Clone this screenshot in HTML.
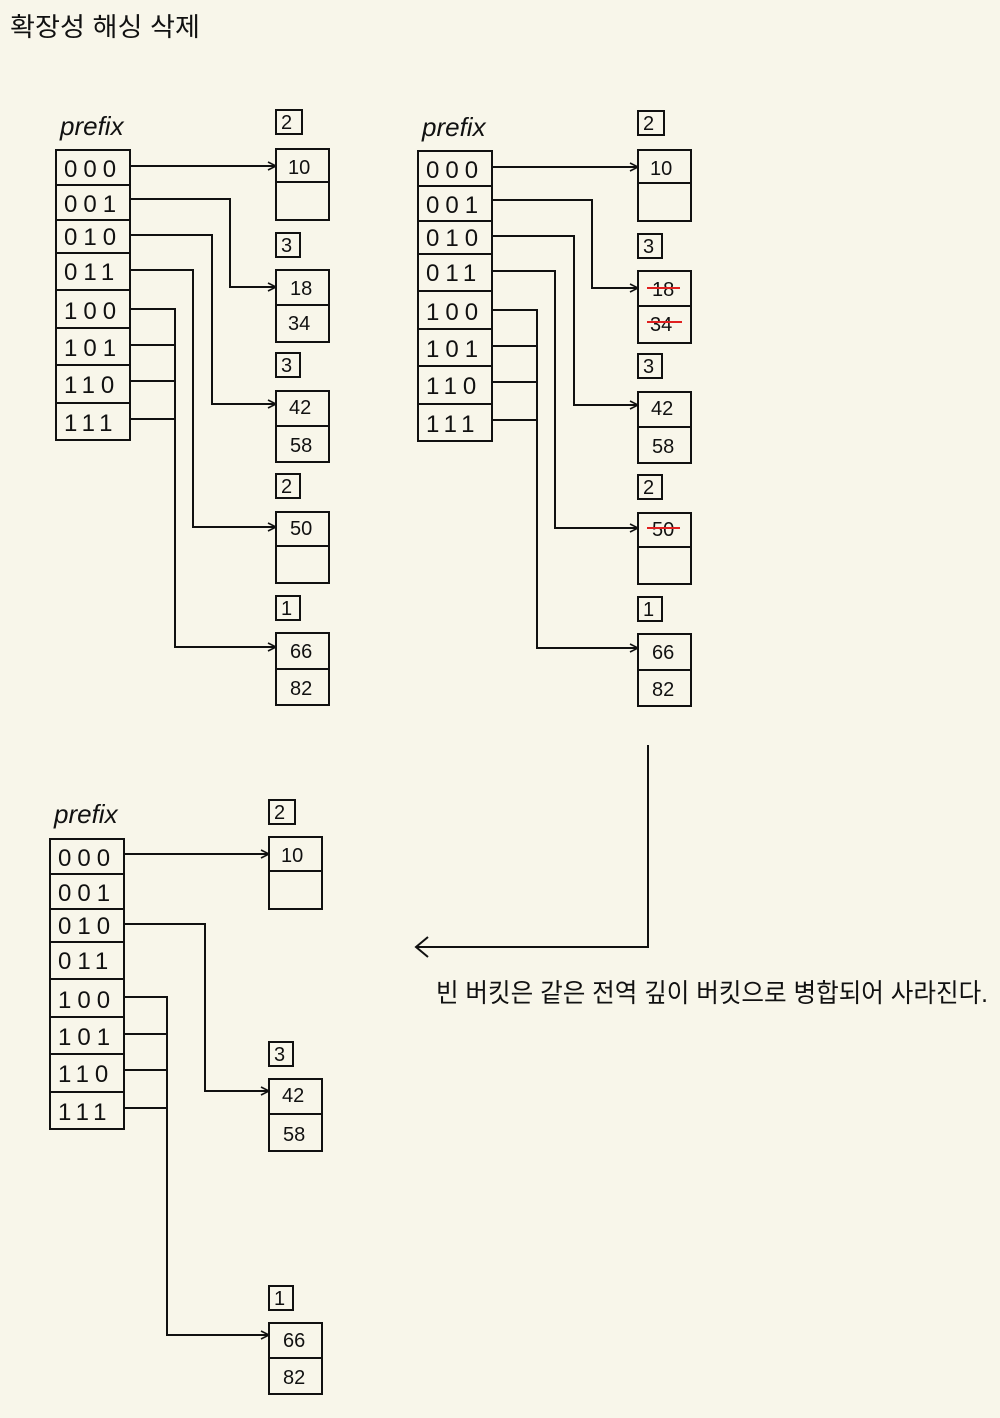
<!DOCTYPE html>
<html><head><meta charset="utf-8"><style>
body{margin:0;background:#f8f6ea}
svg{display:block}
text{font-family:"Liberation Sans","Noto Sans CJK KR",sans-serif;fill:#111}
</style></head><body>
<svg width="1000" height="1418" viewBox="0 0 1000 1418" xmlns="http://www.w3.org/2000/svg">
<defs>
<marker id="a" markerWidth="10" markerHeight="10" refX="9" refY="5" orient="auto" markerUnits="userSpaceOnUse"><path d="M1,1 L9,5 L1,9" fill="none" stroke="#111" stroke-width="1.6"/></marker>
<g id="tbl" stroke="#111" stroke-width="2" fill="none">
<rect x="0" y="0" width="74" height="290"/>
<path d="M0,35H74M0,70H74M0,103H74M0,140H74M0,178H74M0,215H74M0,253H74"/>
</g>
</defs>
<text x="10" y="36" font-size="26" textLength="190" lengthAdjust="spacingAndGlyphs">확장성 해싱 삭제</text>

<g id="d1">
<text x="60" y="135" font-size="26" font-style="italic">prefix</text>
<use href="#tbl" x="56" y="150"/>
<g font-size="24" letter-spacing="6">
<text x="64" y="177">000</text><text x="64" y="212">001</text><text x="64" y="245">010</text><text x="64" y="280">011</text>
<text x="64" y="319">100</text><text x="64" y="356">101</text><text x="64" y="393">110</text><text x="64" y="431">111</text>
</g>
<g stroke="#111" stroke-width="2" fill="none">
<rect x="276" y="110" width="26" height="24"/><rect x="276" y="149" width="53" height="71"/><path d="M276,182H329"/>
<rect x="276" y="233" width="24" height="24"/><rect x="276" y="270" width="53" height="72"/><path d="M276,305H329"/>
<rect x="276" y="353" width="24" height="24"/><rect x="276" y="391" width="53" height="71"/><path d="M276,426H329"/>
<rect x="276" y="474" width="24" height="24"/><rect x="276" y="512" width="53" height="71"/><path d="M276,546H329"/>
<rect x="276" y="596" width="24" height="24"/><rect x="276" y="633" width="53" height="72"/><path d="M276,669H329"/>
<path d="M130,166H276" marker-end="url(#a)"/>
<path d="M130,199H230V287H276" marker-end="url(#a)"/>
<path d="M130,235H212V404H276" marker-end="url(#a)"/>
<path d="M130,270H193V527H276" marker-end="url(#a)"/>
<path d="M130,309H175V647H276" marker-end="url(#a)"/>
<path d="M130,345H175M130,381H175M130,419H175"/>
</g>
<g font-size="20">
<text x="281" y="129">2</text><text x="288" y="174">10</text>
<text x="281" y="252">3</text><text x="290" y="295">18</text><text x="288" y="330">34</text>
<text x="281" y="372">3</text><text x="289" y="414">42</text><text x="290" y="452">58</text>
<text x="281" y="493">2</text><text x="290" y="535">50</text>
<text x="281" y="615">1</text><text x="290" y="658">66</text><text x="290" y="695">82</text>
</g>
</g>

<g transform="translate(362,1)">
<text x="60" y="135" font-size="26" font-style="italic">prefix</text>
<use href="#tbl" x="56" y="150"/>
<g font-size="24" letter-spacing="6">
<text x="64" y="177">000</text><text x="64" y="212">001</text><text x="64" y="245">010</text><text x="64" y="280">011</text>
<text x="64" y="319">100</text><text x="64" y="356">101</text><text x="64" y="393">110</text><text x="64" y="431">111</text>
</g>
<g stroke="#111" stroke-width="2" fill="none">
<rect x="276" y="110" width="26" height="24"/><rect x="276" y="149" width="53" height="71"/><path d="M276,182H329"/>
<rect x="276" y="233" width="24" height="24"/><rect x="276" y="270" width="53" height="72"/><path d="M276,305H329"/>
<rect x="276" y="353" width="24" height="24"/><rect x="276" y="391" width="53" height="71"/><path d="M276,426H329"/>
<rect x="276" y="474" width="24" height="24"/><rect x="276" y="512" width="53" height="71"/><path d="M276,546H329"/>
<rect x="276" y="596" width="24" height="24"/><rect x="276" y="633" width="53" height="72"/><path d="M276,669H329"/>
<path d="M130,166H276" marker-end="url(#a)"/>
<path d="M130,199H230V287H276" marker-end="url(#a)"/>
<path d="M130,235H212V404H276" marker-end="url(#a)"/>
<path d="M130,270H193V527H276" marker-end="url(#a)"/>
<path d="M130,309H175V647H276" marker-end="url(#a)"/>
<path d="M130,345H175M130,381H175M130,419H175"/>
</g>
<g font-size="20">
<text x="281" y="129">2</text><text x="288" y="174">10</text>
<text x="281" y="252">3</text><text x="290" y="295">18</text><text x="288" y="330">34</text>
<text x="281" y="372">3</text><text x="289" y="414">42</text><text x="290" y="452">58</text>
<text x="281" y="493">2</text><text x="290" y="535">50</text>
<text x="281" y="615">1</text><text x="290" y="658">66</text><text x="290" y="695">82</text>
</g>
<g stroke="#e02020" stroke-width="2">
<path d="M285,287H318M285,321H320M285,527H318"/>
</g>
</g>

<text x="54" y="823" font-size="26" font-style="italic">prefix</text>
<use href="#tbl" x="50" y="839"/>
<g font-size="24" letter-spacing="6">
<text x="58" y="866">000</text><text x="58" y="901">001</text><text x="58" y="934">010</text><text x="58" y="969">011</text>
<text x="58" y="1008">100</text><text x="58" y="1045">101</text><text x="58" y="1082">110</text><text x="58" y="1120">111</text>
</g>
<g stroke="#111" stroke-width="2" fill="none">
<rect x="269" y="800" width="26" height="24"/><rect x="269" y="837" width="53" height="72"/><path d="M269,871H322"/>
<rect x="269" y="1042" width="24" height="24"/><rect x="269" y="1079" width="53" height="72"/><path d="M269,1114H322"/>
<rect x="269" y="1286" width="24" height="24"/><rect x="269" y="1323" width="53" height="71"/><path d="M269,1358H322"/>
<path d="M123,854H269" marker-end="url(#a)"/>
<path d="M123,924H205V1091H269" marker-end="url(#a)"/>
<path d="M123,997H167V1335H269" marker-end="url(#a)"/>
<path d="M123,1034H167M123,1070H167M123,1108H167"/>
<path d="M648,745V947H417"/>
<path d="M428,937L416,947L428,957"/>
</g>
<g font-size="20">
<text x="274" y="819">2</text><text x="281" y="862">10</text>
<text x="274" y="1061">3</text><text x="282" y="1102">42</text><text x="283" y="1141">58</text>
<text x="274" y="1305">1</text><text x="283" y="1347">66</text><text x="283" y="1384">82</text>
</g>
<text x="436" y="1002" font-size="26" textLength="552" lengthAdjust="spacingAndGlyphs">빈 버킷은 같은 전역 깊이 버킷으로 병합되어 사라진다.</text>
</svg>
</body></html>
